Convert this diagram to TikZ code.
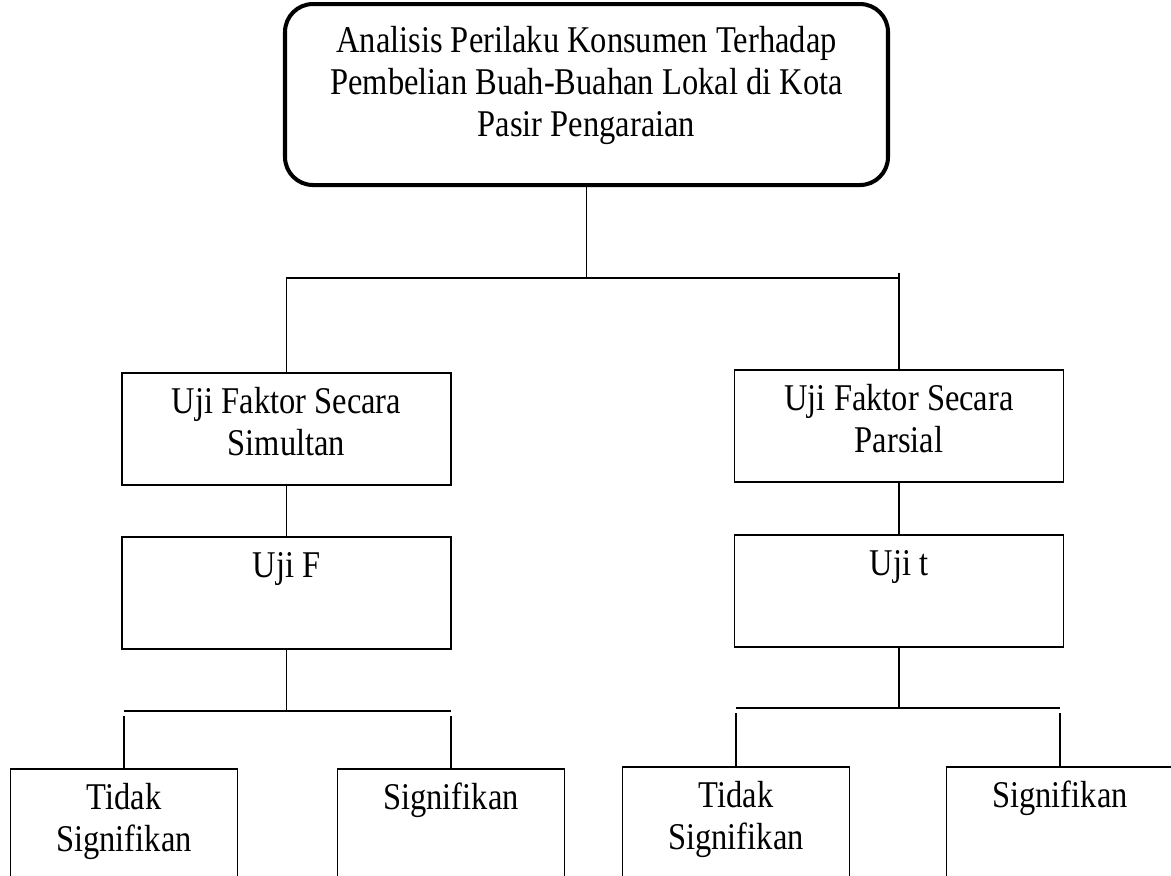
\documentclass[tikz,border=0pt]{standalone}
\usepackage{fontspec}
\setmainfont{Liberation Serif}[FakeStretch=0.86]
\usetikzlibrary{positioning}
\newlength{\unitpx}
\setlength{\unitpx}{0.02cm}
\tikzstyle{garis} = [line width=1pt]

\begin{document}
\begin{tikzpicture}[x=0.02cm, y=-0.02cm,
        every node/.style={font=\fontsize{21.5}{23.9}\selectfont, align=flush center, inner sep=0pt, anchor=north},
        kotak/.style={draw, line width=1pt, text width=329\unitpx, text height=41\unitpx, text depth=71\unitpx},
        hasil/.style={draw, line width=1pt, text width=227\unitpx, text height=41\unitpx, text depth=110\unitpx}
      ]
        \useasboundingbox (0,0) rectangle (1171,876);
        \clip (0,0) rectangle (1171,876);

        % Judul
        \node (judul) [draw, rounded corners=28\unitpx, line width=2.3pt, text width=603\unitpx, text height=48\unitpx, text depth=133\unitpx] at (586.5,2) {Analisis Perilaku Konsumen Terhadap\\Pembelian Buah-Buahan Lokal di Kota\\Pasir Pengaraian};
        \coordinate (cabang) at (586.5,278);

        % Uji simultan
        \node (uji_simultan) [kotak] at (286.5,372) {Uji Faktor Secara\\Simultan};
        \node (uji_f) [kotak, below=50\unitpx of uji_simultan] {Uji F};
        \coordinate (bus_f) at (286.5,711);
        \node (f_tidak) [hasil] at (124,768) {Tidak\\Signifikan};
        \node (f_sig) [hasil] at (451,768) {Signifikan};

        % Uji parsial
        \node (uji_parsial) [kotak] at (899,369) {Uji Faktor Secara\\Parsial};
        \node (uji_t) [kotak, below=51\unitpx of uji_parsial] {Uji t};
        \coordinate (bus_t) at (899,708);
        \node (t_tidak) [hasil] at (736,766) {Tidak\\Signifikan};
        \node (t_sig) [hasil] at (1060,766) {Signifikan};

        % Garis judul
        \draw [garis] (judul.south) -- (judul.south |- cabang);
        \draw [garis] (uji_simultan.north) -- (uji_simultan.north |- cabang) -- (uji_parsial.north |- cabang);
        \draw [garis] (uji_parsial.north) -- ++(0,-96);

        % Garis uji F
        \draw [garis] (uji_simultan.south) -- (uji_f.north);
        \draw [garis] (uji_f.south) -- (uji_f.south |- bus_f);
        \draw [garis] (f_tidak.north |- bus_f) -- (f_sig.north |- bus_f);
        \draw [garis] (f_tidak.north) -- ++(0,-52);
        \draw [garis] (f_sig.north) -- ++(0,-52);

        % Garis uji t
        \draw [garis] (uji_parsial.south) -- (uji_t.north);
        \draw [garis] (uji_t.south) -- (uji_t.south |- bus_t);
        \draw [garis] (t_tidak.north |- bus_t) -- (t_sig.north |- bus_t);
        \draw [garis] (t_tidak.north) -- ++(0,-53);
        \draw [garis] (t_sig.north) -- ++(0,-53);
      \end{tikzpicture}
\end{document}
